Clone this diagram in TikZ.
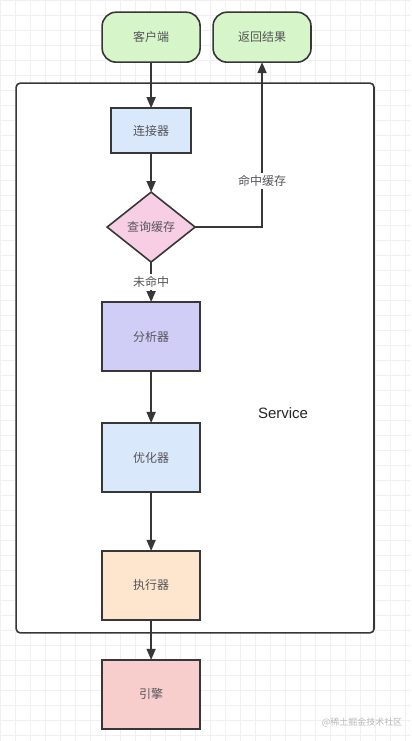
\documentclass[tikz,border=0pt]{standalone}
\usepackage{fontspec}
\newfontfamily\cjk{Noto Sans CJK SC}
\newfontfamily\latinsans{Liberation Sans}
\usepackage{xcolor}
\usepackage{tikz}
\usetikzlibrary{
  shapes.geometric,
  arrows.meta,
  positioning
}
\definecolor{sqlGreen}{RGB}{214,245,200}
\definecolor{sqlBlue}{RGB}{218,232,252}
\definecolor{sqlPink}{RGB}{247,206,228}
\definecolor{sqlViolet}{RGB}{208,205,247}
\definecolor{sqlPeach}{RGB}{253,230,205}
\definecolor{sqlRed}{RGB}{248,206,204}
\definecolor{sqlLine}{RGB}{55,55,55}
\definecolor{sqlText}{RGB}{85,85,90}

\begin{document}
\begin{tikzpicture}[
  x=1pt, y=-1pt,
  font=\cjk\fontsize{12}{14}\selectfont,
  outer sep=0pt,
  %% Start / end terminal (pill)
  term/.style={
    rounded corners=14pt,
    draw=sqlLine,
    fill=sqlGreen,
    line width=1.6pt,
    minimum width=98pt,
    minimum height=50pt,
    text=sqlText
  },
  %% Process block (1-arg: fill colour)
  proc/.style={
    draw=sqlLine,
    fill=#1,
    line width=1.6pt,
    minimum width=98pt,
    minimum height=69pt,
    text=sqlText
  },
  %% Decision diamond
  judge/.style={
    diamond,
    draw=sqlLine,
    fill=sqlPink,
    line width=1.6pt,
    inner sep=0pt,
    aspect=1.27,
    minimum width=88pt,
    minimum height=70pt,
    text=sqlText
  },
  %% Service frame
  frame/.style={
    rounded corners=4pt,
    draw=sqlLine,
    fill=white,
    line width=1.6pt
  },
  lbl/.style={fill=white, inner sep=2pt, text=sqlText},
  arr/.style={-{Triangle[length=11pt,width=9pt]}, line width=1.6pt, sqlLine},
  gridline/.style={gray!12, line width=0.4pt}
]

%% ---- Background grid and frame ----
\draw[gridline, step=15pt] (0pt,0pt) grid (411pt,-741pt);
\node[frame, minimum width=358pt, minimum height=550pt] (service) at (195,358) {};
\node[font=\latinsans\fontsize{15}{18}\selectfont, text=black!85] (svclabel) at (283,413) {Service};

%% ---- Terminals ----
\node[term] (client) at (151,37) {客户端};
\node[term] (result) at (262,37) {返回结果};

%% ---- Nodes (vertical chain) ----
\node[proc=sqlBlue, minimum width=80pt, minimum height=45pt, below=46pt of client] (conn) {连接器};
\node[judge, below=39pt of conn] (query) {查询缓存};
\node[proc=sqlViolet, below=40pt of query] (parser) {分析器};
\node[proc=sqlBlue, below=52pt of parser] (optim) {优化器};
\node[proc=sqlPeach, below=59pt of optim] (exec) {执行器};
\node[proc=sqlRed, below=40pt of exec] (engine) {引擎};

%% ---- Vertical flow arrows ----
\draw[arr] (client.south) -- (conn.north);
\draw[arr] (conn.south)   -- (query.north);
\draw[arr] (query.south)  -- (parser.north)
  node[midway, lbl]{未命中};
\draw[arr] (parser.south) -- (optim.north);
\draw[arr] (optim.south)  -- (exec.north);
\draw[arr] (exec.south)   -- (engine.north);

%% ---- Cache hit ----
\draw[arr] (query.east) -| (result.south)
  node[pos=0.64, lbl]{命中缓存};

%% ---- Watermark ----
\node[font=\cjk\fontsize{9}{10}\selectfont, text=gray!55] (mark) at (362,723) {@稀土掘金技术社区};

\end{tikzpicture}
\end{document}
